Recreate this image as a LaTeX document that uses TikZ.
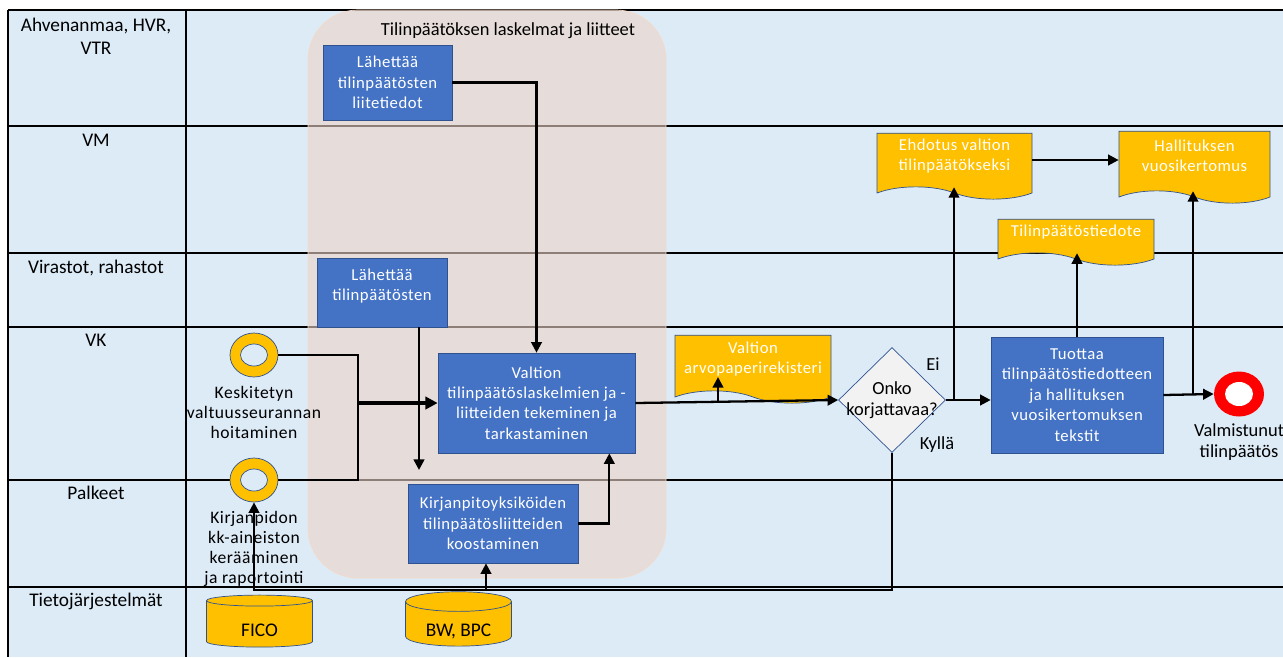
\documentclass[tikz,border=0pt]{standalone}
\usepackage{fontspec}
\setmainfont{Carlito}
\newfontfamily\spacedfont[LetterSpace=3]{Carlito}
\usetikzlibrary{positioning,arrows.meta,shapes.geometric,shapes.symbols}

\definecolor{laneblue}{HTML}{DDEBF7}
\definecolor{groupfill}{HTML}{ECD5C8}
\definecolor{groupedge}{HTML}{F4D9C8}
\definecolor{taskblue}{HTML}{4472C4}
\definecolor{taskedge}{HTML}{2F528F}
\definecolor{docyellow}{HTML}{FFC000}
\definecolor{endred}{HTML}{FF0000}
\definecolor{checkfill}{HTML}{F2F2F2}

\tikzset{
  lane/.style={line width=1.3pt},
  lanelabel/.style={align=center, inner sep=0pt, font=\fontsize{11}{13}\selectfont},
  task/.style={draw=taskedge, fill=taskblue, text=white, align=center, inner sep=0pt,
    font=\spacedfont\fontsize{9.5}{11.6}\selectfont},
  docbox/.style={tape, tape bend top=none, tape bend bottom=out and in, tape bend height=7pt,
    draw=taskedge, fill=docyellow, text=white, align=center, inner sep=0pt, text depth=6pt,
    font=\spacedfont\fontsize{9.5}{11.4}\selectfont},
  decision/.style={diamond, draw=taskedge, fill=checkfill, align=center, inner sep=-9pt,
    minimum width=2.14cm, minimum height=2.1cm, font=\fontsize{10.5}{11.8}\selectfont},
  ring/.style={ellipse, draw=taskedge, fill=docyellow, minimum width=0.96cm, minimum height=0.88cm,
    path picture={\filldraw[fill=laneblue, draw=taskedge, thin]
      (path picture bounding box.center) ellipse (13.5 and 11);}},
  endring/.style={ellipse, fill=endred, minimum width=1cm, minimum height=0.9cm,
    path picture={\fill[white] (path picture bounding box.center) ellipse (14 and 12);}},
  ringlabel/.style={align=center, inner sep=0pt, font=\spacedfont\fontsize{10}{11.3}\selectfont},
  store/.style={cylinder, shape border rotate=90, aspect=0.3, draw=taskedge, fill=docyellow,
    minimum width=2.12cm, minimum height=1.04cm, inner sep=0pt, text height=14pt, text depth=0pt,
    font=\fontsize{11}{13}\selectfont},
  flow/.style={line width=1.3pt, -{Triangle[length=6pt,width=6pt]}},
  flowline/.style={line width=1.3pt},
  thickflow/.style={line width=2.2pt, -{Triangle[length=7pt,width=7pt]}},
}

\begin{document}
\begin{tikzpicture}[x=0.02cm,y=-0.02cm]
\useasboundingbox (0,0) rectangle (1283,657);

% swimlanes
\fill[laneblue] (8,10) rectangle (1283,657);
\foreach \yy in {10,126,253,327,480,587}
  \draw[lane] (8,\yy) -- (1283,\yy);
\draw[lane] (8,10) -- (8,657);
\draw[lane] (186,10) -- (186,657);

\node[lanelabel] (lblahv) at (96,36.5) {Ahvenanmaa, HVR,\\VTR};
\node[lanelabel] (lblvm) at (96,140) {VM};
\node[lanelabel] (lblvir) at (96,268) {Virastot, rahastot};
\node[lanelabel] (lblvk) at (96,340) {VK};
\node[lanelabel] (lblpal) at (96,493) {Palkeet};
\node[lanelabel] (lbltj) at (96,601) {Tietojärjestelmät};

% group
\draw[groupedge, fill=groupfill, fill opacity=0.6, rounded corners=1cm] (308,10) rectangle (666,578);
\node[font=\fontsize{10.5}{12}\selectfont, inner sep=0pt] (grouptitle) at (508,31) {Tilinpäätöksen laskelmat ja liitteet};

% tasks
\node[task, minimum width=2.58cm, minimum height=1.5cm] (sendA) at (387.5,82.5) {Lähettää\\tilinpäätösten\\liitetiedot};
\node[task, minimum width=2.6cm, minimum height=1.38cm, text depth=9pt] (sendB) at (382,292.5) {Lähettää\\tilinpäätösten};
\node[task, minimum width=3.94cm, minimum height=2cm] (taskC) at (536.5,403) {Valtion\\tilinpäätöslaskelmien ja -\\liitteiden tekeminen ja\\tarkastaminen};
\node[task, minimum width=3.4cm, minimum height=1.58cm] (taskD) at (493,523.5) {Kirjanpitoyksiköiden\\tilinpäätösliitteiden\\koostaminen};
\node[task, minimum width=3.44cm, minimum height=2.32cm] (taskE) at (1077,395) {Tuottaa\\tilinpäätöstiedotteen\\ja hallituksen\\vuosikertomuksen\\tekstit};

% documents
\node[docbox, minimum width=3.12cm, minimum height=1.36cm] (arvo) at (753,363) {Valtion\\arvopaperirekisteri};
\node[docbox, minimum width=3.1cm, minimum height=1.32cm] (ehdotus) at (954.5,160) {Ehdotus valtion\\tilinpäätökseksi};
\node[docbox, minimum width=3.02cm, minimum height=1.44cm] (hallitus) at (1194.5,161) {Hallituksen\\vuosikertomus};
\node[docbox, minimum width=3.12cm, minimum height=0.92cm] (tiedote) at (1076,236) {Tilinpäätöstiedote};

% decision and events
\node[decision] (check) at (892,400) {Onko\\korjattavaa?};
\node[font=\fontsize{10.5}{12}\selectfont, inner sep=0pt] (ei) at (933,364) {Ei};
\node[font=\fontsize{10.5}{12}\selectfont, inner sep=0pt] (kylla) at (937,445) {Kyllä};

\node[ring] (ringK) at (254,355) {};
\node[ringlabel, below=0.18cm of ringK] (lblK) {Keskitetyn\\valtuusseurannan\\hoitaminen};
\node[ring] (ringP) at (254,480) {};
\node[ringlabel, below=0.18cm of ringP] (lblP) {Kirjanpidon\\kk-aineiston\\kerääminen\\ja raportointi};
\node[endring] (done) at (1239,394) {};
\node[ringlabel, font=\fontsize{10.5}{12.5}\selectfont, below=0.12cm of done] (lbldone) {Valmistunut\\tilinpäätös};

% systems
\node[store] (fico) at (259.5,624) {FICO};
\node[store] (bw) at (458.5,624) {BW, BPC};

% connectors
\coordinate (merge) at (358,403);
\coordinate (sendBend) at (419,470);
\coordinate (tap) at (718,402);
\coordinate (arvoin) at (718,377);
\coordinate (eitap) at (954,400);
\coordinate (hvtap) at (1193,395);
\coordinate (back) at (254,590);
\coordinate (split) at (486,590);

\draw[flow] (sendA.east) -| (taskC.north);
\draw[flow] (sendBend |- sendB.south) -- (sendBend);
\draw[flowline] (ringK.east) -| (merge) |- (ringP.east);
\draw[thickflow] (merge) -- (taskC.west);
\draw[flow] (taskD.east) -| ([xshift=-0.52cm]taskC.south east);
\draw[flow] (taskC.east) -- (check.west);
\draw[flow] (tap) -- (arvoin);
\draw[flow] (check.east) -- (check.east -| taskE.west);
\draw[flow] (eitap) -- (eitap |- ehdotus.south);
\draw[flow] (ehdotus.east) -- (ehdotus.east -| hallitus.west);
\draw[flow] (taskE.north) -- (taskE.north |- tiedote.south);
\draw[flow] (taskE.east) -- (done.west);
\draw[flow] (hvtap) -- (hvtap |- hallitus.south);
\draw[flow] (check.south) |- (back) -- (ringP.south);
\draw[flow] (split) -- (split |- taskD.south);
\end{tikzpicture}
\end{document}
